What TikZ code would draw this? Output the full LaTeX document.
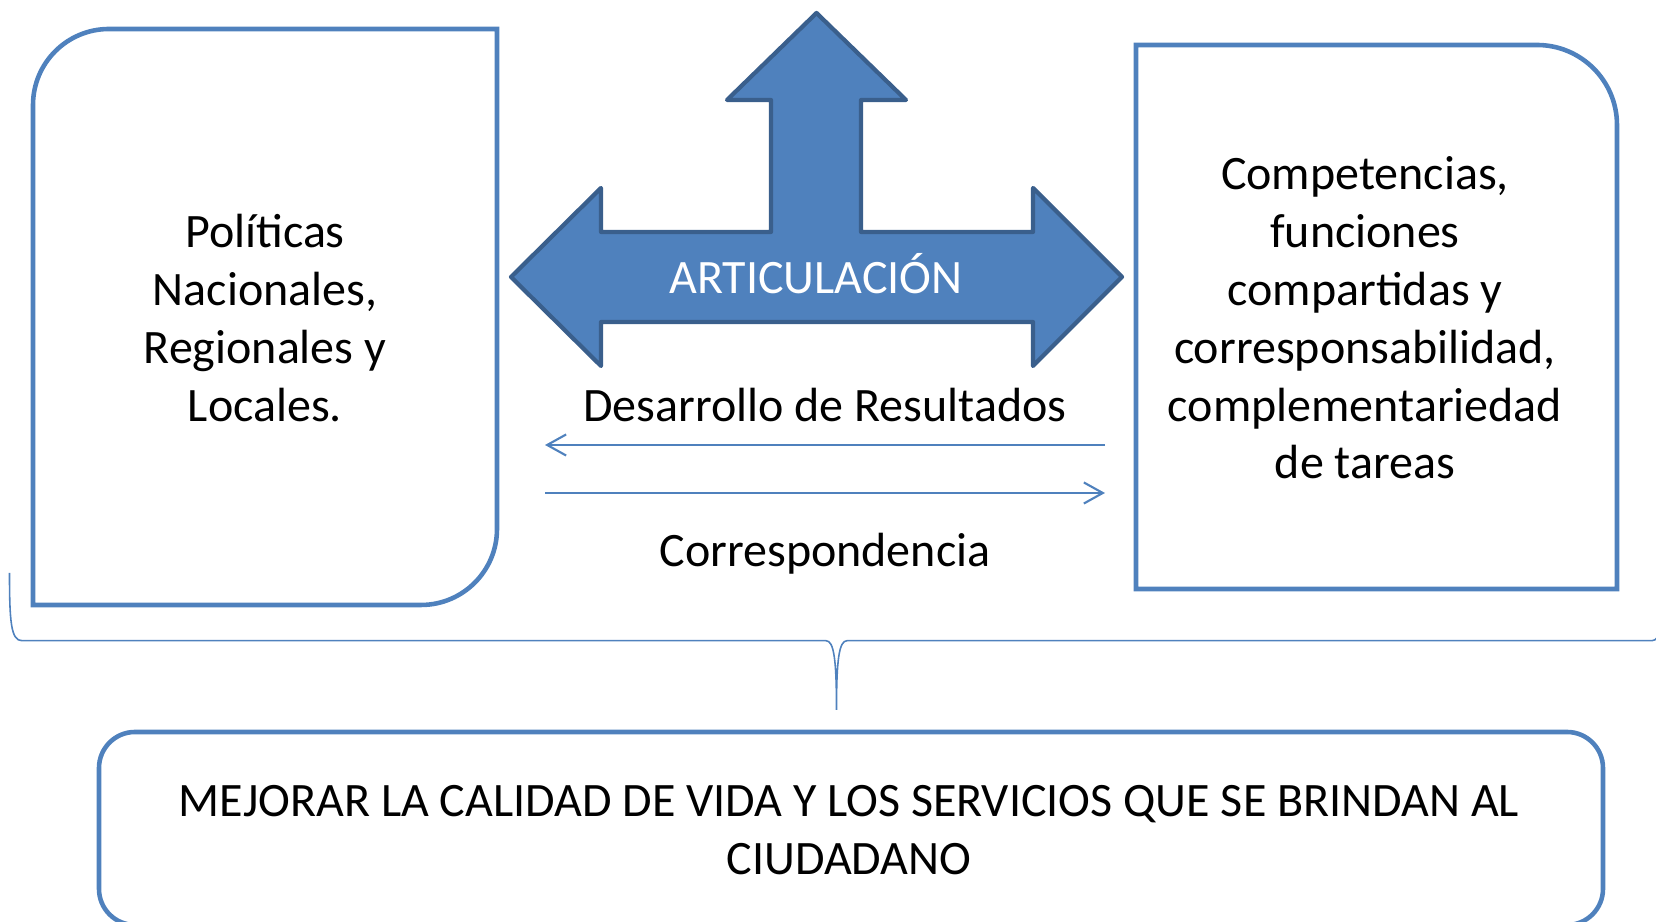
\documentclass[tikz,border=0pt]{standalone}
\usepackage{fontspec}
\setmainfont{Carlito}
\usetikzlibrary{arrows.meta}
\definecolor{boxblue}{HTML}{4F81BD}
\definecolor{arrowedge}{HTML}{3A5F8C}
\tikzstyle{txt} = [align=center, inner sep=0pt, font=\fontsize{13.65pt}{16.45pt}\selectfont]
\tikzstyle{frame} = [draw=boxblue, line width=1.3pt]
\tikzstyle{bigarrow} = [draw=arrowedge, fill=boxblue, line width=1.2pt, line join=round]
\tikzstyle{arrow} = [draw=boxblue, line width=0.6pt, -{Straight Barb[length=5.4pt,width=6pt]}]
\tikzstyle{brace} = [draw=boxblue, line width=0.45pt]

\begin{document}
\begin{tikzpicture}[x=0.01cm, y=0.01cm]
    \useasboundingbox (0,0) rectangle (1656,922);

    % Frames
    \draw [frame] (109,893) -- (497,893) -- (497,393) arc[start angle=0, end angle=-90, radius=76]
        -- (33,317) -- (33,817) arc[start angle=180, end angle=90, radius=76] -- cycle;
    \draw [frame] (1136,877) -- (1537,877) arc[start angle=90, end angle=0, radius=80]
        -- (1617,333) -- (1136,333) -- cycle;
    \draw [frame, rounded corners=0.36cm] (99,-3) rectangle (1603,190);

    % Big arrow
    \draw [bigarrow] (511,645) -- (601,734) -- (601,690) -- (771,690) -- (771,822) -- (727,822)
        -- (816.5,909) -- (906,822) -- (861,822) -- (861,690) -- (1033,690) -- (1033,734)
        -- (1122,645) -- (1033,556) -- (1033,600) -- (601,600) -- (601,556) -- cycle;

    % Nodes
    \node (pol) [txt] at (265,604) {Políticas\\Nacionales,\\Regionales y\\Locales.};
    \node (comp) [txt] at (1365,604) {Competencias,\\funciones\\compartidas y\\corresponsabilidad,\\complementariedad\\de tareas};
    \node (art) [txt, text=white] at (816,648) {ARTICULACIÓN};
    \node (des) [txt] at (825,517) {Desarrollo de Resultados};
    \node (cor) [txt] at (825,368) {Correspondencia};
    \node (meta) [txt] at (849,92) {MEJORAR LA CALIDAD DE VIDA Y LOS SERVICIOS QUE SE BRINDAN AL\\CIUDADANO};

    % Arrows
    \coordinate (desR) at (1105,477);
    \coordinate (desL) at (545,477);
    \coordinate (corL) at (545,429);
    \coordinate (corR) at (1105,429);
    \draw [arrow] (desR) -- (desL);
    \draw [arrow] (corL) -- (corR);

    % Brace
    \coordinate (braceL) at (9.5,349);
    \coordinate (braceTip) at (836.5,212);
    \coordinate (braceR) at (1664,349);
    \draw [brace] (braceL) .. controls (9.5,300) and (11,281.3) .. (22,281.3) -- (826,281.3)
        .. controls (834,281.3) and (836.5,262) .. (braceTip)
        .. controls (836.5,262) and (839,281.3) .. (847,281.3) -- (1652,281.3)
        .. controls (1661,281.3) and (1664,300) .. (braceR);
\end{tikzpicture}
\end{document}
